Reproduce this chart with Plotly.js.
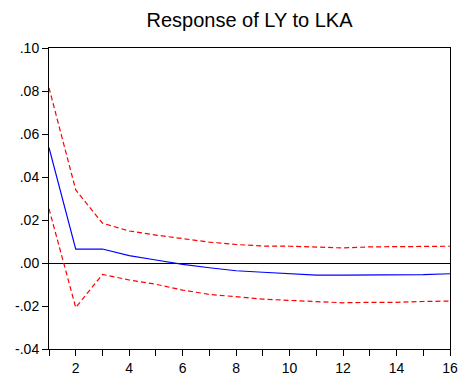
<!DOCTYPE html>
<html><head><meta charset="utf-8">
<script src="https://cdn.plot.ly/plotly-3.0.1.min.js"></script>
<style>html,body{margin:0;padding:0;background:#fff}#chart{width:461px;height:378px}</style>
</head><body><div id="chart"></div>
<script>
const periods = [1,2,3,4,5,6,7,8,9,10,11,12,13,14,15,16];
const response = [0.0537,0.0065,0.0065,0.0034,0.0014,-0.0006,-0.0022,-0.0036,-0.0043,-0.0050,-0.0056,-0.0056,-0.0056,-0.0056,-0.0054,-0.0050];
const upperBand = [0.0815,0.0340,0.0185,0.0149,0.0130,0.0112,0.0097,0.0086,0.0079,0.0078,0.0075,0.0070,0.0075,0.0075,0.0075,0.0078];
const lowerBand = [0.0252,-0.0207,-0.0053,-0.0079,-0.0099,-0.0126,-0.0146,-0.0157,-0.0168,-0.0174,-0.0180,-0.0185,-0.0183,-0.0183,-0.0179,-0.0177];
const yTickVals = [-0.04,-0.02,0,0.02,0.04,0.06,0.08,0.10];
const yTickText = ["-.04","-.02",".00",".02",".04",".06",".08",".10"];
const xTickVals = periods;
const xTickText = ["","2","","4","","6","","8","","10","","12","","14","","16"];

const traces = [
  {x: periods, y: upperBand, mode:'lines', line:{color:'#ff0000', width:1.2, dash:'5px,3px'}, hoverinfo:'skip'},
  {x: periods, y: lowerBand, mode:'lines', line:{color:'#ff0000', width:1.2, dash:'5px,3px'}, hoverinfo:'skip'},
  {x: periods, y: response, mode:'lines', line:{color:'#0000ff', width:1.2}, hoverinfo:'skip'}
];
const layout = {
  width:461, height:378,
  margin:{l:49, r:11, t:48, b:29},
  paper_bgcolor:'#fff', plot_bgcolor:'#fff',
  showlegend:false,
  font:{family:'Liberation Sans, Arial, sans-serif', size:14, color:'#000'},
  title:{text:'Response of LY to LKA', font:{size:20, color:'#000'}, xref:'paper', x:0.5, xanchor:'center', y:0.948, yanchor:'middle'},
  xaxis:{range:[1,16], tickvals:xTickVals, ticktext:xTickText, ticks:'outside', ticklen:6, tickcolor:'#000',
         showline:true, linecolor:'#000', linewidth:1, mirror:true, showgrid:false, zeroline:false},
  yaxis:{range:[-0.04,0.10], tickvals:yTickVals, ticktext:yTickText, ticks:'outside', ticklen:6, tickcolor:'#000',
         showline:true, linecolor:'#000', linewidth:1, mirror:true, showgrid:false,
         zeroline:true, zerolinecolor:'#000', zerolinewidth:1}
};
Plotly.newPlot('chart', traces, layout, {staticPlot:true, displayModeBar:false});
</script></body></html>
